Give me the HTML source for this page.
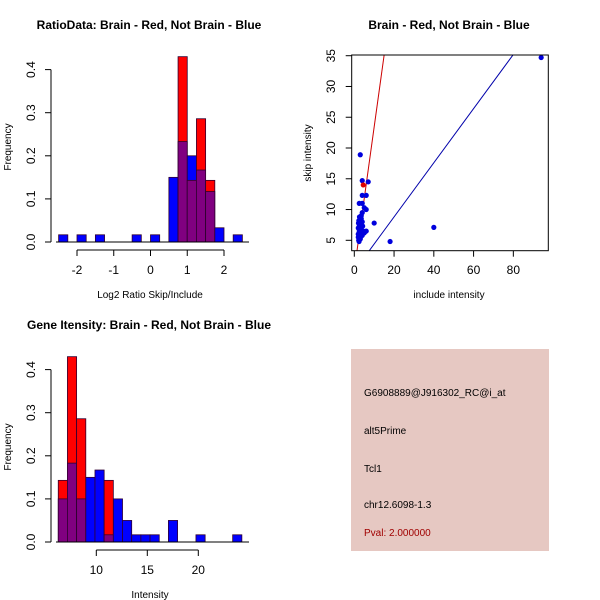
<!DOCTYPE html>
<html><head><meta charset="utf-8"><style>
html,body{margin:0;padding:0;background:#fff;}
svg{display:block;font-family:"Liberation Sans",sans-serif;}
</style></head><body>
<svg id="c" width="600" height="600" xmlns="http://www.w3.org/2000/svg">
<rect width="600" height="600" fill="#fff"/>
<text x="149" y="29" font-size="12" font-weight="bold" text-anchor="middle">RatioData: Brain - Red, Not Brain - Blue</text>
<text x="449" y="29" font-size="12" font-weight="bold" text-anchor="middle">Brain - Red, Not Brain - Blue</text>
<text x="149" y="329" font-size="12" font-weight="bold" text-anchor="middle">Gene Itensity: Brain - Red, Not Brain - Blue</text>
<text x="150" y="298" font-size="10" text-anchor="middle">Log2 Ratio Skip/Include</text>
<text x="150" y="598" font-size="10" text-anchor="middle">Intensity</text>
<text x="449" y="298" font-size="10" text-anchor="middle">include intensity</text>
<text transform="translate(11,147) rotate(-90)" font-size="10" text-anchor="middle">Frequency</text>
<text transform="translate(11,447) rotate(-90)" font-size="10" text-anchor="middle">Frequency</text>
<text transform="translate(311,153) rotate(-90)" font-size="10" text-anchor="middle">skip intensity</text>
<g>
<rect x="351" y="349" width="198" height="202" fill="#e6c8c2"/>
<text x="364" y="396" font-size="10">G6908889@J916302_RC@i_at</text>
<text x="364" y="434" font-size="10">alt5Prime</text>
<text x="364" y="472" font-size="10">Tcl1</text>
<text x="364" y="508" font-size="10">chr12.6098-1.3</text>
<text x="364" y="536" font-size="10" fill="#a00000">Pval: 2.000000</text>
</g>
</svg>
<script>
// Ratio histogram data
const ratioBinStart = -2.5;
const ratioBinWidth = 0.25;
const ratioBlue = [0.0167,0,0.0167,0,0.0167,0,0,0,0.0167,0,0.0167,0,0.15,0.233,0.2,0.167,0.117,0.033,0,0.0167];
const ratioRed  = [0,0,0,0,0,0,0,0,0,0,0,0,0,0.43,0.143,0.286,0.143,0,0,0];
const ratioXTicks = [-2,-1,0,1,2];
const freqTicks = [0.0,0.1,0.2,0.3,0.4];
// Intensity histogram data
const intBinStart = 6.27;
const intBinWidth = 0.9;
const intBlue = [0.1,0.183,0.1,0.15,0.167,0.0167,0.1,0.05,0.0167,0.0167,0.0167,0,0.05,0,0,0.0167,0,0,0,0.0167];
const intRed  = [0.143,0.43,0.286,0,0,0.143,0,0,0,0,0,0,0,0,0,0,0,0,0,0];
const intXTicks = [10,15,20];
// Scatter data
const incBlue = [94,3,4,7,4,6,2.5,4,5,6,4,10,40,18,2,2.5,3,3.5,4,2,2.5,3,3.5,4.5,5,6,2,3,4,2.2,3,2.8,3.5,2.3,2.6,3.2,4.2,5.5,2.1,2.4];
const skipBlue = [34.7,18.9,14.7,14.5,12.3,12.3,11,11,10.3,10,9.5,7.8,7.1,4.8,7,7.5,8,8.5,8,6,6.5,6.8,7.2,6.5,6.2,6.5,5.5,5.2,5.8,5,5.4,6,9,8.2,8.8,7.6,7.3,6.4,7.8,4.8];
const incRed = [4.5];
const skipRed = [14];
const scatXTicks = [0,20,40,60,80];
const scatYTicks = [5,10,15,20,25,30,35];
const redFit = [2.33,0.14];   // slope, intercept
const blueFit = [0.44,0];

const svg = document.getElementById('c');
const NS = 'http://www.w3.org/2000/svg';
function mk(tag, attrs, parent){
  const e = document.createElementNS(NS, tag);
  for (const k in attrs) e.setAttribute(k, attrs[k]);
  (parent||svg).appendChild(e);
  return e;
}

function hist(name, binStart, binW, blue, red, xTicks, xs, y0, tickY){
  const g = mk('g', {});
  
  
  const ys = v => y0 - v * 431;
  for (let i = 0; i < blue.length; i++){
    const x1 = xs(binStart + i*binW), x2 = xs(binStart + (i+1)*binW);
    const b = blue[i], r = red[i];
    const m = Math.min(b, r), M = Math.max(b, r);
    if (M <= 0) continue;
    const topCol = b >= r ? '#0000ff' : '#ff0000';
    const bar = mk('rect', {x:x1, y:ys(M), width:x2-x1, height:ys(0)-ys(M), fill:topCol, stroke:'#300030', 'stroke-width':0.8}, g);
    
    
    if (m > 0){
      const ov = mk('rect', {x:x1, y:ys(m), width:x2-x1, height:ys(0)-ys(m), fill:'#800080', stroke:'#300030', 'stroke-width':0.8}, g);
      
      
    }
  }
  const ya = mk('g', {}, g);
  
  
  mk('line', {x1:51, x2:51, y1:ys(0), y2:ys(0.4), stroke:'#000'}, ya);
  freqTicks.forEach(t => {
    mk('line', {x1:45, x2:51, y1:ys(t), y2:ys(t), stroke:'#000'}, ya);
    const tx = mk('text', {transform:`translate(35,${ys(t)}) rotate(-90)`, 'font-size':12, 'text-anchor':'middle'}, ya);
    tx.textContent = t.toFixed(1);
    
    
  });
  const xa = mk('g', {}, g);
  
  
  mk('line', {x1:xs(xTicks[0]), x2:xs(xTicks[xTicks.length-1]), y1:tickY, y2:tickY, stroke:'#000'}, xa);
  xTicks.forEach(t => {
    mk('line', {x1:xs(t), x2:xs(t), y1:tickY, y2:tickY+6, stroke:'#000'}, xa);
    const tx = mk('text', {x:xs(t), y:tickY+24, 'font-size':12, 'text-anchor':'middle'}, xa);
    tx.textContent = t;
    
    
  });
  mk('line', {x1:56, x2:249, y1:y0, y2:y0, stroke:'#000'}, g);
}

hist('ratio-histogram', ratioBinStart, ratioBinWidth, ratioBlue, ratioRed, ratioXTicks, v => 150.5 + v*36.75, 242, 250);
hist('intensity-histogram', intBinStart, intBinWidth, intBlue, intRed, intXTicks, v => 96.3 + (v-10)*10.2, 542, 550);

const sg = mk('g', {});


const sx = v => 354.3 + v*1.988;
const sy = v => 240.3 - (v-5)*6.153;
const clip = mk('clipPath', {id:'sc'}, sg);
mk('rect', {x:352, y:55, width:196, height:196}, clip);
const lines = mk('g', {'clip-path':'url(#sc)'}, sg);
[[redFit,'#cc0000','red-fit-line'],[blueFit,'#0000aa','blue-fit-line']].forEach(([f,c,n]) => {
  const l = mk('line', {x1:sx(-5), y1:sy(f[0]*-5+f[1]), x2:sx(100), y2:sy(f[0]*100+f[1]), stroke:c, 'stroke-width':1}, lines);
  
  
});
incBlue.forEach((v,i) => {
  const p = mk('circle', {cx:sx(v), cy:sy(skipBlue[i]), r:2.6, fill:'#0000dd'}, sg);
  
  
});
incRed.forEach((v,i) => {
  const p = mk('circle', {cx:sx(v), cy:sy(skipRed[i]), r:2.6, fill:'#dd0000'}, sg);
  
  
});
mk('rect', {x:351.7, y:55, width:196.6, height:195.7, fill:'none', stroke:'#000'}, sg);
scatXTicks.forEach(t => {
  mk('line', {x1:sx(t), x2:sx(t), y1:250.7, y2:256.7, stroke:'#000'}, sg);
  const tx = mk('text', {x:sx(t), y:274, 'font-size':12, 'text-anchor':'middle'}, sg);
  tx.textContent = t;
  
  
});
scatYTicks.forEach(t => {
  mk('line', {x1:345.7, x2:351.7, y1:sy(t), y2:sy(t), stroke:'#000'}, sg);
  const tx = mk('text', {transform:`translate(335,${sy(t)}) rotate(-90)`, 'font-size':12, 'text-anchor':'middle'}, sg);
  tx.textContent = t;
  
  
});
</script>
</body></html>
